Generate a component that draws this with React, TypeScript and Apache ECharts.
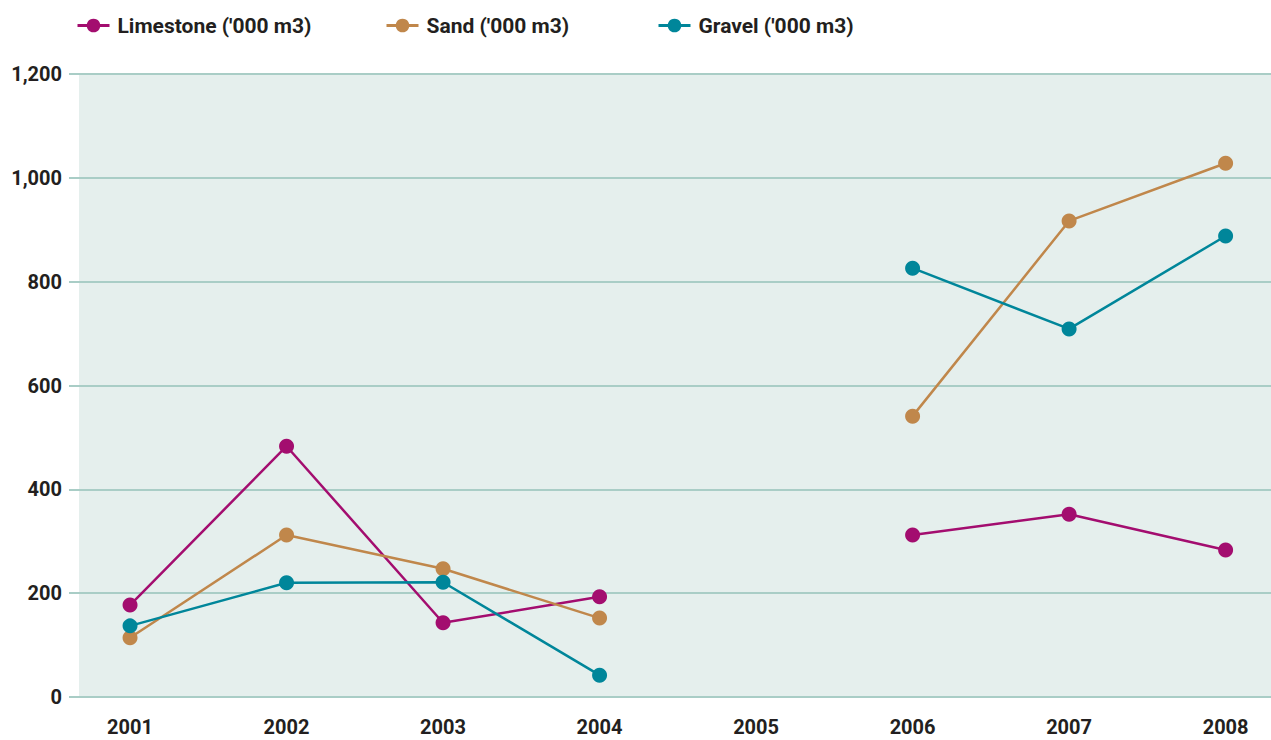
import React, { useEffect, useRef } from "react";
import * as echarts from "echarts";

const years = [2001, 2002, 2003, 2004, 2005, 2006, 2007, 2008];
const limestone = [177, 483, 143, 193, null, 312, 352, 283];
const sand = [114, 312, 247, 152, null, 541, 917, 1028];
const gravel = [137, 220, 221, 42, null, 826, 709, 888];
const yTicks = [0, 200, 400, 600, 800, 1000, 1200];

const names = ["Limestone ('000 m3)", "Sand ('000 m3)", "Gravel ('000 m3)"];
const colors = ["#a30d6f", "#c0874b", "#00869a"];
const values = [limestone, sand, gravel];

const FONT = "Roboto";

export default function App() {
  const ref = useRef<HTMLDivElement>(null);
  useEffect(() => {
    if (!ref.current) return;
    const chart = echarts.init(ref.current, undefined, { renderer: "svg" });
    const legendLefts = [71, 380, 652];
    const option: any = {
      animation: false,
      backgroundColor: "#ffffff",
      legend: names.map((n, i) => ({
        data: [n],
        left: legendLefts[i],
        top: 10,
        itemWidth: 32,
        itemHeight: 17,
        itemGap: 8,
        lineStyle: { width: 3 },
        textStyle: {
          fontFamily: FONT,
          fontWeight: "bold",
          fontSize: 21,
          color: "#231f20",
          padding: [0, 0, 0, 3],
        },
      })),
      grid: [
        { left: 79, right: 0, top: 74, bottom: 43, show: true, backgroundColor: "#e5efed", borderWidth: 0, containLabel: false },
        { left: 69, right: 0, top: 74, bottom: 43, containLabel: false },
      ],
      xAxis: [
        { type: "value", gridIndex: 0, show: false, min: 0, max: 1 },
        {
          type: "value",
          gridIndex: 1,
          min: 2000.61,
          max: 2008.29,
          axisLine: { show: false },
          axisTick: { show: false },
          splitLine: { show: false },
          axisLabel: {
            customValues: years,
            formatter: (v: number) => String(Math.round(v)),
            fontFamily: FONT,
            fontWeight: "bold",
            fontSize: 20,
            color: "#231f20",
            margin: 20,
          },
        },
      ],
      yAxis: [
        { type: "value", gridIndex: 0, show: false, min: 0, max: 1200 },
        {
          type: "value",
          gridIndex: 1,
          min: yTicks[0],
          max: yTicks[yTicks.length - 1],
          interval: 200,
          axisLine: { show: false },
          axisTick: { show: false },
          splitLine: { lineStyle: { color: "#a9cdc6", width: 2 } },
          axisLabel: {
            formatter: (v: number) => v.toLocaleString("en-US"),
            fontFamily: FONT,
            fontWeight: "bold",
            fontSize: 20,
            color: "#231f20",
            margin: 7,
          },
        },
      ],
      series: names.map((n, i) => ({
        name: n,
        type: "line",
        xAxisIndex: 1,
        yAxisIndex: 1,
        data: years.map((y, j) => [y, values[i][j] === null ? "-" : values[i][j]]),
        connectNulls: false,
        symbol: "circle",
        symbolSize: 15,
        color: colors[i],
        lineStyle: { width: 2.5, color: colors[i] },
        itemStyle: { color: colors[i] },
      })),
    };
    chart.setOption(option);
    return () => chart.dispose();
  }, []);
  return <div ref={ref} style={{ width: 1271, height: 740, position: "absolute", left: 0, top: 0 }} />;
}
